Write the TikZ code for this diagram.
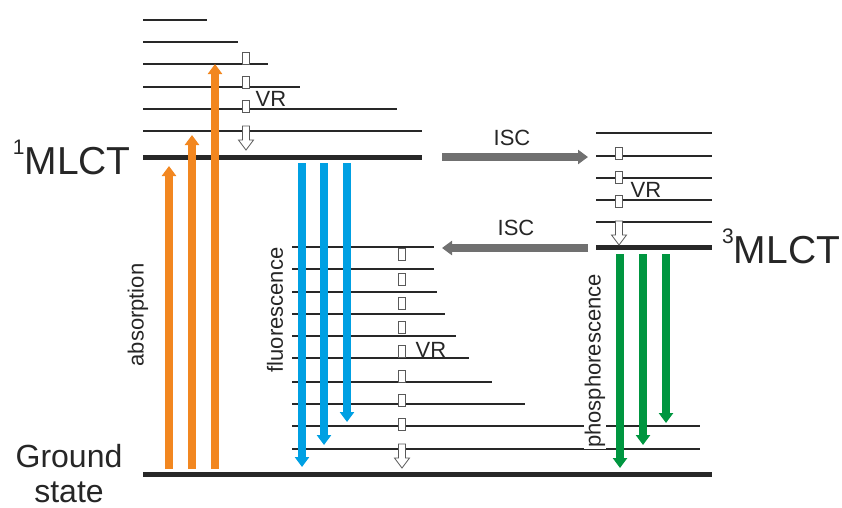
\documentclass[tikz,border=0pt]{standalone}
\usepackage{fontspec}
\setmainfont{Liberation Sans}
\usetikzlibrary{arrows.meta}
\definecolor{absorb}{RGB}{242,135,32}
\definecolor{fluor}{RGB}{0,160,227}
\definecolor{phosph}{RGB}{0,150,64}
\definecolor{iscgray}{RGB}{112,112,112}
\definecolor{lvlgray}{RGB}{40,40,40}
\tikzset{
  vib/.style={line width=1.2pt,draw=lvlgray},
  lvl/.style={line width=5pt,draw=lvlgray},
  trans/.style={line width=7.5pt,-{Triangle[width=14pt,length=10pt]}},
  vrbox/.style={draw=black!65,fill=white,line width=0.8pt},
  lbl/.style={font=\fontsize{22}{24}\selectfont,text=black!85,inner sep=1pt},
  big/.style={font=\fontsize{39}{40}\selectfont,text=black!85,inner sep=0pt},
  vrhead/.pic={\draw[vrbox] (-3.5,0) -- (3.5,0) -- (3.5,14) -- (7.5,14) -- (0,24)
     -- (-7.5,14) -- (-3.5,14) -- cycle;}
}
\newcommand{\upidx}[1]{\raisebox{20pt}{\fontsize{21}{21}\selectfont #1}}

\begin{document}
\begin{tikzpicture}[x=1pt,y=-1pt]
  \useasboundingbox (0,0) rectangle (842,507);
  % singlet manifold
  \foreach \y/\r in {20/207,42/238,64/268,87/300,109/397,131/422}
    \draw[vib] (143,\y) -- (\r,\y);
  \draw[lvl] (143,157) -- (422,157);
  \foreach \y in {52,76,100}
    \draw[vrbox] (242.5,\y) rectangle +(7,12.5);
  \pic at (246,126) {vrhead};
  \node[lbl] (vr1) at (271,99) {VR};
  \node[big,anchor=base east] (s1) at (131,174) {\upidx{1}MLCT};
  % triplet manifold
  \foreach \y in {133,156,178,200,222}
    \draw[vib] (596,\y) -- (712,\y);
  \draw[lvl] (596,247) -- (712,247);
  \foreach \y in {147,171,195}
    \draw[vrbox] (615.5,\y) rectangle +(7,12.5);
  \pic at (619,221) {vrhead};
  \node[lbl] (vr2) at (646,190) {VR};
  \node[big,anchor=base west] (t1) at (722,263) {\upidx{3}MLCT};
  % ground manifold
  \foreach \y/\r in {247/434,269/434,292/437,314/445,336/456,358/469,382/492,404/525,426/700,449/700}
    \draw[vib] (292,\y) -- (\r,\y);
  \draw[lvl] (143,474) -- (712,474);
  \foreach \y in {248,273,297,321,345,370,394,418}
    \draw[vrbox] (398.5,\y) rectangle +(7,12.5);
  \pic at (402,444) {vrhead};
  \node[lbl] (vr3) at (431,350) {VR};
  \node[big,font=\fontsize{32}{34}\selectfont,anchor=base] (g1) at (69,467) {Ground};
  \node[big,font=\fontsize{32}{34}\selectfont,anchor=base] (g2) at (69,502) {state};
  % transitions
  \foreach \x/\t in {169/166,192/135,215/64}
    \draw[trans,absorb] (\x,469) -- (\x,\t);
  \foreach \x/\t in {302/467,324/445,347/422}
    \draw[trans,fluor] (\x,163) -- (\x,\t);
  \foreach \x/\t in {620/468,643/445,666/423}
    \draw[trans,phosph] (\x,254) -- (\x,\t);
  \draw[trans,iscgray] (442,157) -- (588,157);
  \draw[trans,iscgray] (588,248) -- (442,248);
  \node[lbl] (isc1) at (512,138) {ISC};
  \node[lbl] (isc2) at (516,228) {ISC};
  \node[lbl,rotate=90] (abs) at (138,315) {absorption};
  \node[lbl,rotate=90] (fl) at (275,310) {fluorescence};
  \node[lbl,rotate=90,fill=white] (ph) at (595,361) {phosphorescence};
\end{tikzpicture}
\end{document}
